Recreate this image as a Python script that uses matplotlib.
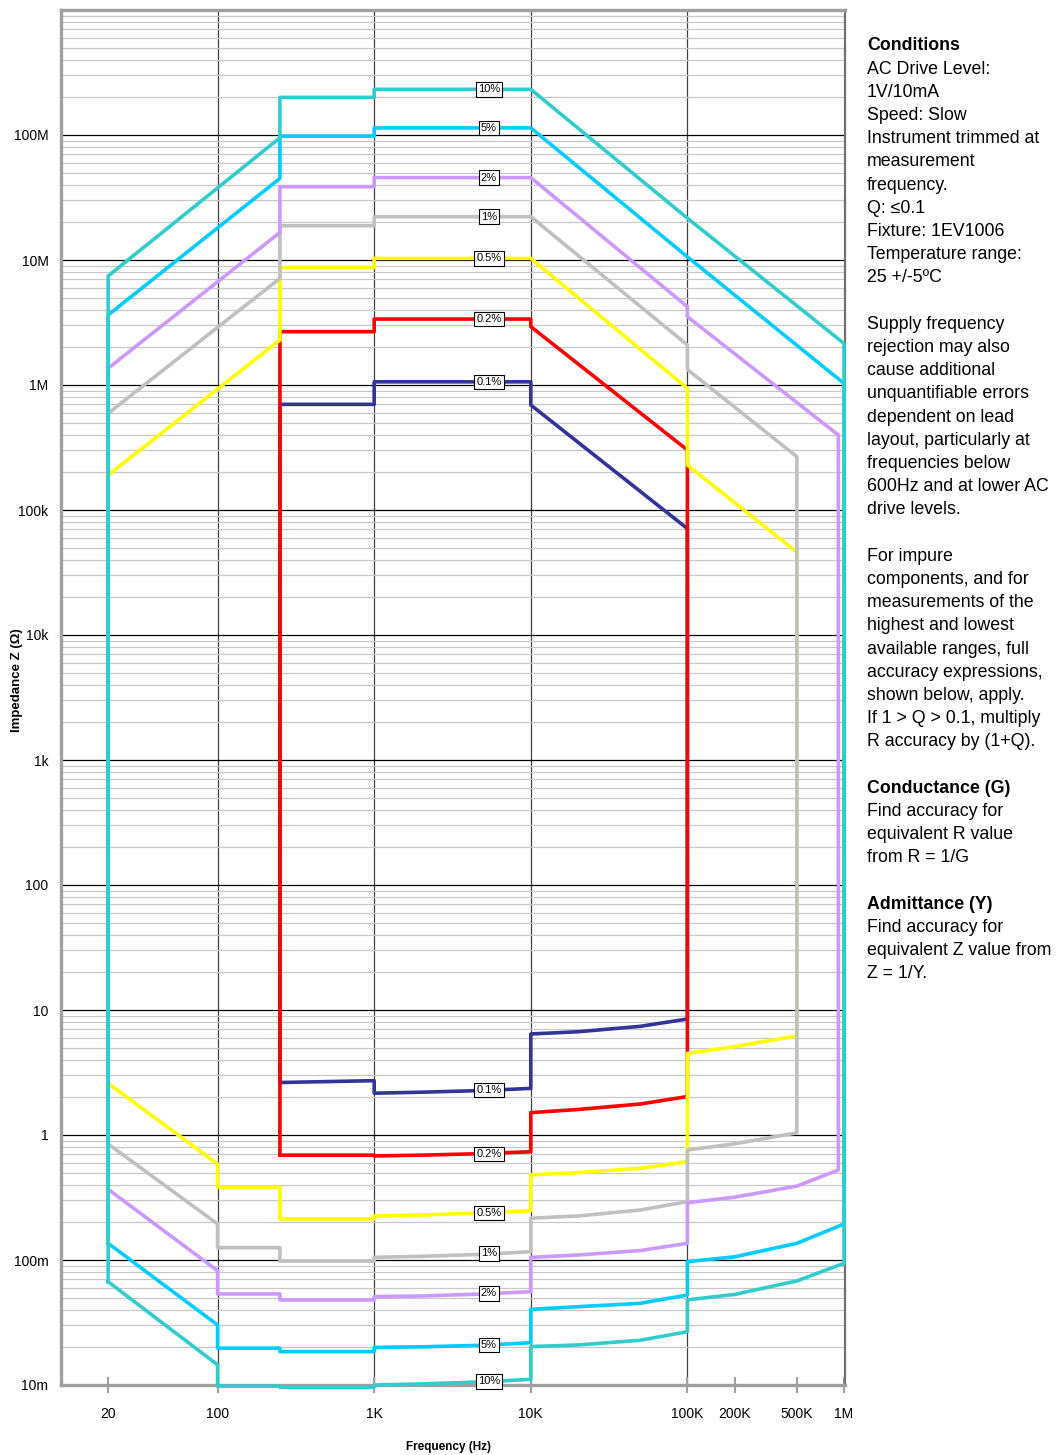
import numpy as np
import matplotlib.pyplot as plt
from matplotlib.ticker import LogLocator, NullFormatter, NullLocator

plt.rcParams['font.family'] = ['Liberation Sans', 'DejaVu Sans']

# Accuracy contours: closed outlines (frequency in Hz, impedance in ohm)
f_10 = [20, 20, 250, 250, 1e3, 1e3, 1e4, 1e5, 1e6, 1e6, 5e5, 2e5, 1e5, 1e5, 5e4, 2e4, 1e4, 1e4, 5e3, 2e3, 1e3, 1e3, 250, 250, 100, 100, 20]
z_10 = [0.067, 7.45e6, 95e6, 200e6, 200e6, 232e6, 232e6, 21.6e6, 2.15e6, 0.094, 0.068, 0.053, 0.048, 0.0267, 0.0228, 0.0209, 0.0203, 0.0111, 0.0106, 0.0102, 0.0100, 0.0096, 0.0096, 0.0098, 0.0098, 0.0145, 0.067]

f_5 = [20, 20, 250, 250, 1e3, 1e3, 1e4, 1e5, 1e6, 1e6, 5e5, 2e5, 1e5, 1e5, 5e4, 2e4, 1e4, 1e4, 5e3, 2e3, 1e3, 1e3, 250, 250, 100, 100, 20]
z_5 = [0.136, 3.63e6, 45e6, 98e6, 98e6, 114e6, 114e6, 10.6e6, 1.03e6, 0.194, 0.136, 0.106, 0.097, 0.0525, 0.045, 0.0423, 0.0403, 0.0218, 0.0208, 0.0202, 0.0200, 0.0185, 0.0185, 0.0197, 0.0197, 0.0302, 0.136]

f_2 = [20, 20, 250, 250, 1e3, 1e3, 1e4, 1e5, 1e5, 9.2e5, 9.2e5, 5e5, 2e5, 1e5, 1e5, 5e4, 2e4, 1e4, 1e4, 5e3, 2e3, 1e3, 1e3, 250, 250, 100, 100, 20]
z_2 = [0.368, 1.36e6, 16.6e6, 38.6e6, 38.6e6, 45.6e6, 45.6e6, 4.23e6, 3.52e6, 398e3, 0.525, 0.39, 0.318, 0.287, 0.136, 0.119, 0.1096, 0.105, 0.0558, 0.0535, 0.0515, 0.051, 0.0479, 0.0479, 0.0535, 0.0535, 0.082, 0.368]

f_1 = [20, 20, 250, 250, 1e3, 1e3, 1e4, 1e5, 1e5, 5e5, 5e5, 2e5, 1e5, 1e5, 5e4, 2e4, 1e4, 1e4, 5e3, 2e3, 1e3, 1e3, 250, 250, 100, 100, 20]
z_1 = [0.847, 593e3, 7.13e6, 18.8e6, 18.8e6, 22.2e6, 22.2e6, 2.09e6, 1.33e6, 267e3, 1.04, 0.85, 0.759, 0.293, 0.251, 0.225, 0.216, 0.1166, 0.111, 0.107, 0.105, 0.098, 0.098, 0.1255, 0.1255, 0.194, 0.847]

f_05 = [20, 20, 250, 250, 1e3, 1e3, 1e4, 1e5, 1e5, 5e5, 5e5, 2e5, 1e5, 1e5, 5e4, 2e4, 1e4, 1e4, 5e3, 2e3, 1e3, 1e3, 250, 250, 100, 100, 20]
z_05 = [2.59, 190e3, 2.29e6, 8.7e6, 8.7e6, 10.3e6, 10.3e6, 0.94e6, 229e3, 46e3, 6.2, 5.09, 4.5, 0.612, 0.541, 0.5, 0.479, 0.248, 0.238, 0.229, 0.225, 0.213, 0.213, 0.382, 0.382, 0.586, 2.59]

f_02 = [250, 250, 1e3, 1e3, 1e4, 1e4, 1e5, 1e5, 5e4, 2e4, 1e4, 1e4, 5e3, 2e3, 1e3, 1e3, 250]
z_02 = [0.69, 2.67e6, 2.67e6, 3.37e6, 3.37e6, 2.93e6, 302e3, 2.03, 1.77, 1.60, 1.51, 0.735, 0.71, 0.69, 0.68, 0.69, 0.69]

f_01 = [250, 250, 1e3, 1e3, 1e4, 1e4, 1e5, 1e5, 5e4, 2e4, 1e4, 1e4, 5e3, 2e3, 1e3, 1e3, 250]
z_01 = [2.63, 700e3, 700e3, 1.06e6, 1.06e6, 692e3, 71e3, 8.47, 7.4, 6.7, 6.43, 2.36, 2.27, 2.2, 2.16, 2.72, 2.63]

# drawn from 0.1 % upwards so 10 % ends on top
series = [
    ('0.1%', f_01, z_01, '#333399'),
    ('0.2%', f_02, z_02, '#FF0000'),
    ('0.5%', f_05, z_05, '#FFFF00'),
    ('1%', f_1, z_1, '#C0C0C0'),
    ('2%', f_2, z_2, '#CC99FF'),
    ('5%', f_5, z_5, '#00CCFF'),
    ('10%', f_10, z_10, '#33CCCC'),
]

# label boxes sit at ~5.4 kHz on the upper and lower edges
label_f = 5.4e3
label_hi = {'10%': 232e6, '5%': 114e6, '2%': 45.6e6, '1%': 22.2e6, '0.5%': 10.3e6, '0.2%': 3.37e6, '0.1%': 1.06e6}
label_lo = {'10%': 0.0107, '5%': 0.0208, '2%': 0.0540, '1%': 0.113, '0.5%': 0.238, '0.2%': 0.705, '0.1%': 2.28}

y_ticks = [1e-2, 1e-1, 1, 10, 100, 1e3, 1e4, 1e5, 1e6, 1e7, 1e8]
y_labels = ['10m', '100m', '1', '10', '100', '1k', '10k', '100k', '1M', '10M', '100M']
x_ticks = [20, 100, 1e3, 1e4, 1e5, 2e5, 5e5, 1e6]
x_labels = ['20', '100', '1K', '10K', '100K', '200K', '500K', '1M']
x_grid = [1e2, 1e3, 1e4, 1e5]

notes = [
    ('Conditions', True), ('AC Drive Level:', False), ('1V/10mA', False),
    ('Speed: Slow', False), ('Instrument trimmed at', False), ('measurement', False),
    ('frequency.', False), ('Q: \u22640.1', False), ('Fixture: 1EV1006', False),
    ('Temperature range:', False), ('25 +/-5\u00baC', False), ('', False),
    ('Supply frequency', False), ('rejection may also', False), ('cause additional', False),
    ('unquantifiable errors', False), ('dependent on lead', False),
    ('layout, particularly at', False), ('frequencies below', False),
    ('600Hz and at lower AC', False), ('drive levels.', False), ('', False),
    ('For impure', False), ('components, and for', False), ('measurements of the', False),
    ('highest and lowest', False), ('available ranges, full', False),
    ('accuracy expressions,', False), ('shown below, apply.', False),
    ('If 1 > Q > 0.1, multiply', False), ('R accuracy by (1+Q).', False), ('', False),
    ('Conductance (G)', True), ('Find accuracy for', False), ('equivalent R value', False),
    ('from R = 1/G', False), ('', False),
    ('Admittance (Y)', True), ('Find accuracy for', False), ('equivalent Z value from', False),
    ('Z = 1/Y.', False),
]

W, H = 1057, 1455
fig = plt.figure(figsize=(W / 100, H / 100), dpi=100)
ax = fig.add_axes([61 / W, 1 - 1385 / H, 784 / W, 1375 / H])
ax.set_xscale('log')
ax.set_yscale('log')
ax.set_xlim(10, 1.015e6)
ax.set_ylim(1e-2, 1e9)

# grid
ax.yaxis.set_minor_locator(LogLocator(base=10, subs=np.arange(2, 10), numticks=100))
ax.yaxis.set_minor_formatter(NullFormatter())
ax.xaxis.set_minor_locator(NullLocator())
ax.xaxis.set_minor_formatter(NullFormatter())
ax.grid(True, which='minor', axis='y', color='#c8c8c8', lw=0.9)
ax.grid(True, which='major', axis='y', color='black', lw=0.9)
for xv in x_grid:
    ax.axvline(xv, color='#404040', lw=0.9, zorder=1)

for name, f, z, c in series:
    ax.plot(f, z, color=c, lw=2.6, clip_on=False, zorder=3)

for name, f, z, c in series:
    for yv in (label_hi[name], label_lo[name]):
        ax.text(label_f, yv, name, fontsize=8, ha='center', va='center', zorder=5,
                bbox=dict(boxstyle='square,pad=0.2', fc='white', ec='black', lw=0.8))

ax.set_yticks(y_ticks)
ax.set_yticklabels(y_labels)
ax.set_xticks(x_ticks)
ax.set_xticklabels(x_labels)
ax.tick_params(axis='y', which='both', length=0, pad=9, labelsize=10)
ax.tick_params(axis='x', which='major', direction='inout', length=11, width=1.5,
               color='#a0a0a0', pad=10, labelsize=10)

for side in ('left', 'top', 'bottom'):
    ax.spines[side].set_color('#a0a0a0')
    ax.spines[side].set_linewidth(2.4)
ax.spines['right'].set_color('#707070')
ax.spines['right'].set_linewidth(1.6)

fig.text(449 / W, 1 - 1447 / H, 'Frequency (Hz)', fontsize=8.5, fontweight='bold',
         ha='center', va='center')
fig.text(17 / W, 1 - 680 / H, 'Impedance Z (\u03a9)', fontsize=9.5, fontweight='bold',
         rotation=90, ha='center', va='center')

for i, (line, bold) in enumerate(notes):
    if line:
        fig.text(867 / W, 1 - (46 + i * 23.2) / H, line, fontsize=12.8,
                 fontweight='bold' if bold else 'normal', ha='left', va='center')

fig.savefig('out.png', dpi=100)
